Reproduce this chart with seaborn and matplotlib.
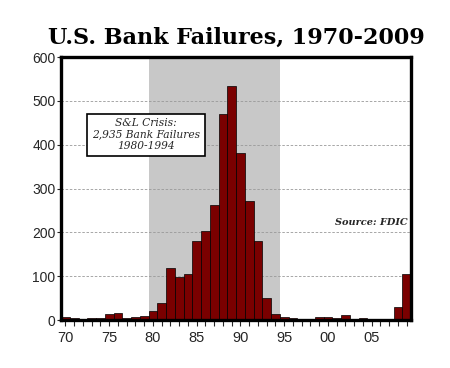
import matplotlib
matplotlib.use("Agg")
import matplotlib.pyplot as plt
from matplotlib.ticker import MultipleLocator, FixedLocator
import seaborn as sns
import pandas as pd

years = list(range(1970, 2010))
failures = [7, 6, 1, 6, 4, 13, 17, 6, 7, 10,
            22, 40, 119, 99, 106, 180, 204, 262, 470, 534,
            382, 271, 181, 50, 15, 8, 6, 1, 3, 8,
            7, 4, 11, 3, 4, 0, 0, 3, 30, 106]
major_ticks = [1970, 1975, 1980, 1985, 1990, 1995, 2000, 2005]
major_labels = ["70", "75", "80", "85", "90", "95", "00", "05"]

df = pd.DataFrame({"year": years, "failures": failures})

sns.set_style("white")
plt.rcParams["font.family"] = ["Liberation Sans", "DejaVu Sans"]
serif = ["DejaVu Serif", "Liberation Serif"]

fig = plt.figure(figsize=(4.5, 3.68), dpi=100)
ax = fig.add_axes([0.1356, 0.13, 0.7778, 0.715])

ax.axvspan(1979.5, 1994.5, color="#c8c8c8", zorder=0, lw=0)
for y in range(100, 600, 100):
    ax.axhline(y, color="#999999", ls=(0, (3, 2)), lw=0.6, zorder=0.5)

sns.barplot(data=df, x="year", y="failures", native_scale=True, width=1,
            color="#7a0000", edgecolor="black", linewidth=0.5, saturation=1,
            ax=ax, zorder=2)

ax.set_xlim(1969.5, 2009.5)
ax.set_ylim(0, 600)
ax.set_xlabel("")
ax.set_ylabel("")
ax.xaxis.set_major_locator(FixedLocator(major_ticks))
ax.set_xticklabels(major_labels)
ax.xaxis.set_minor_locator(MultipleLocator(1))
ax.yaxis.set_major_locator(MultipleLocator(100))
ax.tick_params(axis="x", which="both", direction="out", length=4, width=0.8,
               bottom=True, labelsize=10.5, pad=4)
ax.tick_params(axis="y", direction="out", length=3, width=0.8, left=True,
               labelsize=10, pad=1)
for s in ax.spines.values():
    s.set_linewidth(2.4)
    s.set_color("black")
    s.set_zorder(5)

fig.text(0.525, 0.897, "U.S. Bank Failures, 1970-2009", ha="center", va="center",
         fontsize=16, fontweight="bold", color="black", family=serif)

ax.text(0.243, 0.705, "S&L Crisis:\n2,935 Bank Failures\n1980-1994", transform=ax.transAxes,
        ha="center", va="center", fontsize=7.7, style="italic",
        family=serif, linespacing=1.15,
        bbox=dict(boxstyle="square,pad=0.45", fc="white", ec="black", lw=1.2), zorder=6)

ax.text(0.99, 0.355, "Source: FDIC", transform=ax.transAxes, ha="right", va="bottom",
        fontsize=7, style="italic", fontweight="bold",
        family=serif, zorder=6)

fig.savefig("out.png", dpi=100)
